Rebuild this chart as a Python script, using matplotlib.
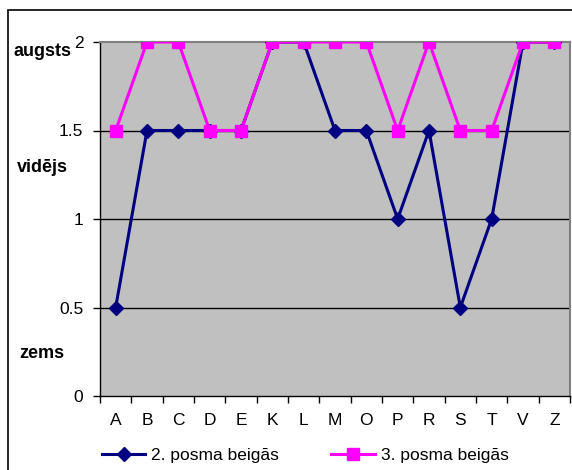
import matplotlib.pyplot as plt
import matplotlib.patches as mpatches
import numpy as np

plt.rcParams["font.family"] = ["Liberation Sans", "DejaVu Sans"]

categories = ["A", "B", "C", "D", "E", "K", "L", "M", "O", "P", "R", "S", "T", "V", "Z"]
posms_2 = [0.5, 1.5, 1.5, 1.5, 1.5, 2, 2, 1.5, 1.5, 1, 1.5, 0.5, 1, 2, 2]
posms_3 = [1.5, 2, 2, 1.5, 1.5, 2, 2, 2, 2, 1.5, 2, 1.5, 1.5, 2, 2]
y_ticks = [0, 0.5, 1, 1.5, 2]
level_labels = ["augsts", "vidējs", "zems"]

W, H = 572, 470
fig = plt.figure(figsize=(W / 100, H / 100), dpi=100)

# outer chart frame
fig.patches.append(mpatches.Rectangle((8 / W, -0.05), 1.0, 1 - 10 / H + 0.05,
                                      transform=fig.transFigure, fill=False,
                                      edgecolor="black", linewidth=1.2))

ax = fig.add_axes([100 / W, 1 - 396 / H, 470 / W, 354 / H])
ax.set_facecolor("#C0C0C0")

x = np.arange(len(categories))
ax.plot(x, posms_2, color="#000080", linewidth=2.2, marker="D", markersize=7.5,
        label="2. posma beigās", zorder=3)
ax.plot(x, posms_3, color="#FF00FF", linewidth=2.2, marker="s", markersize=8.5,
        label="3. posma beigās", zorder=4)

ax.set_xlim(-0.5, len(categories) - 0.5)
ax.set_ylim(0, 2)
ax.set_yticks(y_ticks)
ax.set_yticklabels([f"{v:g}" for v in y_ticks], fontsize=12.5)
for v in y_ticks[1:-1]:
    ax.axhline(v, color="black", linewidth=1, zorder=1)

ax.set_xticks(x)
ax.set_xticklabels(categories, fontsize=12.5)
ax.set_xticks(np.arange(-0.5, len(categories)), minor=True)
ax.tick_params(axis="x", which="major", length=0, pad=12)
ax.tick_params(axis="x", which="minor", length=5, direction="out", width=1)
ax.tick_params(axis="y", length=5, direction="out", width=1, pad=7)

for side in ("top", "right"):
    ax.spines[side].set_color("#808080")
    ax.spines[side].set_linewidth(1.5)
for side in ("left", "bottom"):
    ax.spines[side].set_color("black")
    ax.spines[side].set_linewidth(1)

# qualitative level labels on the left
for label, ypix in zip(level_labels, [52, 167, 353]):
    fig.text(42 / W, 1 - ypix / H, label, fontsize=13, fontweight="bold",
             ha="center", va="center")

fig.legend(loc="center left", bbox_to_anchor=(95 / W, 15 / H), ncol=2,
           frameon=False, fontsize=12.5, handlelength=2.5, columnspacing=3.0,
           handletextpad=0.35, borderaxespad=0)

fig.savefig("out.png", dpi=100)
